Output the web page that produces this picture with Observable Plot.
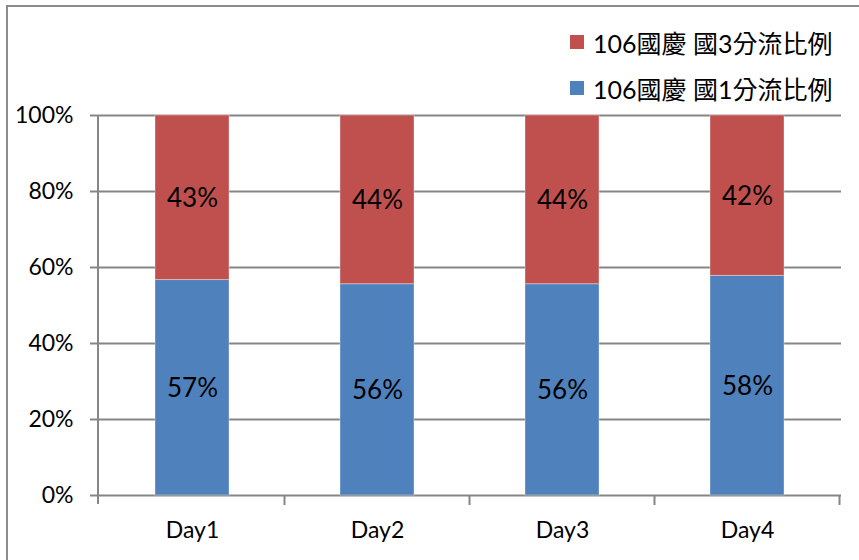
<!DOCTYPE html>
<html>
<head>
<meta charset="utf-8">
<script src="https://cdn.jsdelivr.net/npm/d3@7"></script>
<script src="https://cdn.jsdelivr.net/npm/@observablehq/plot@0.6"></script>
<style>
  html, body { margin: 0; padding: 0; background: #fff; }
  #wrap { position: relative; width: 859px; height: 560px; overflow: hidden; background: #fff;
          font-family: Lato, "Noto Sans CJK TC", sans-serif; }
  #border { position: absolute; left: 6px; top: 5px; width: 900px; height: 600px;
            border: 2px solid #8c8c8c; box-sizing: border-box; pointer-events: none; }
  #legend { height: 80px; box-sizing: border-box; padding-left: 570px; padding-top: 19px; }
  .item { display: flex; align-items: center; height: 46px; font-size: 25px; color: #000; }
  .sw { width: 14px; height: 14px; margin-right: 9px; flex: none; }
  #chart svg { display: block; }
</style>
</head>
<body>
<div id="wrap">
  <div id="legend"></div>
  <div id="chart"></div>
  <div id="border"></div>
</div>
<script>
const days = ["Day1", "Day2", "Day3", "Day4"];
const seriesNames = ["106國慶 國1分流比例", "106國慶 國3分流比例"];
const nat1Share = [56.7, 55.6, 55.6, 57.8];
const nat3Share = [43.3, 44.4, 44.4, 42.2];
const yTicks = [0, 20, 40, 60, 80, 100];
const seriesColors = ["#4F81BD", "#C0504D"];

const rows = days.flatMap((d, i) => [
  {day: d, series: seriesNames[0], value: nat1Share[i]},
  {day: d, series: seriesNames[1], value: nat3Share[i]}
]);

// legend (top series listed first, as in the reference)
const legend = document.getElementById("legend");
[1, 0].forEach(k => {
  const it = document.createElement("div");
  it.className = "item";
  const sw = document.createElement("span");
  sw.className = "sw";
  sw.style.background = seriesColors[k];
  const tx = document.createElement("span");
  tx.textContent = seriesNames[k];
  it.appendChild(sw); it.appendChild(tx);
  legend.appendChild(it);
});

const axisColor = "#868686";

function axisLines(index, scales, values, dims) {
  const x = scales.x;
  const g = d3.create("svg:g").attr("stroke", axisColor).attr("stroke-width", 2);
  const top = dims.marginTop, bottom = dims.height - dims.marginBottom;
  const left = dims.marginLeft;
  g.append("line").attr("x1", left).attr("x2", left).attr("y1", top).attr("y2", bottom + 9);
  const bw = x.bandwidth();
  const step = x.step ? x.step() : bw / 0.4;
  days.forEach(d => {
    const xb = x(d) + bw / 2 + step / 2;
    g.append("line").attr("x1", xb).attr("x2", xb).attr("y1", bottom).attr("y2", bottom + 10);
  });
  return g.node();
}

const chart = Plot.plot({
  width: 859,
  height: 480,
  marginTop: 35,
  marginBottom: 65,
  marginLeft: 98,
  marginRight: 18,
  style: {fontFamily: 'Lato, "Noto Sans CJK TC", sans-serif', fontSize: "23px", color: "#000", background: "#fff"},
  x: {domain: days, paddingInner: 0.6, paddingOuter: 0.3, label: null},
  y: {domain: [0, 100], label: null},
  color: {domain: seriesNames, range: seriesColors},
  marks: [
    Plot.ruleY(yTicks, {stroke: axisColor, strokeWidth: 2}),
    Plot.barY(rows, {x: "day", y: "value", fill: "series", stroke: "#fff", strokeOpacity: 0.35, strokeWidth: 1}),
    Plot.text(rows, Plot.stackY({x: "day", y: "value", text: d => Math.round(d.value) + "%", fontSize: 26, dy: 1, fill: "#000"})),
    Plot.axisY(yTicks, {tickSize: 8, tickPadding: 17, tickFormat: d => d + "%", stroke: axisColor, strokeWidth: 2, fontSize: 23, label: null}),
    Plot.axisX({tickSize: 0, tickPadding: 26, fontSize: 23, label: null}),
    axisLines
  ]
});
document.getElementById("chart").appendChild(chart);
</script>
</body>
</html>
